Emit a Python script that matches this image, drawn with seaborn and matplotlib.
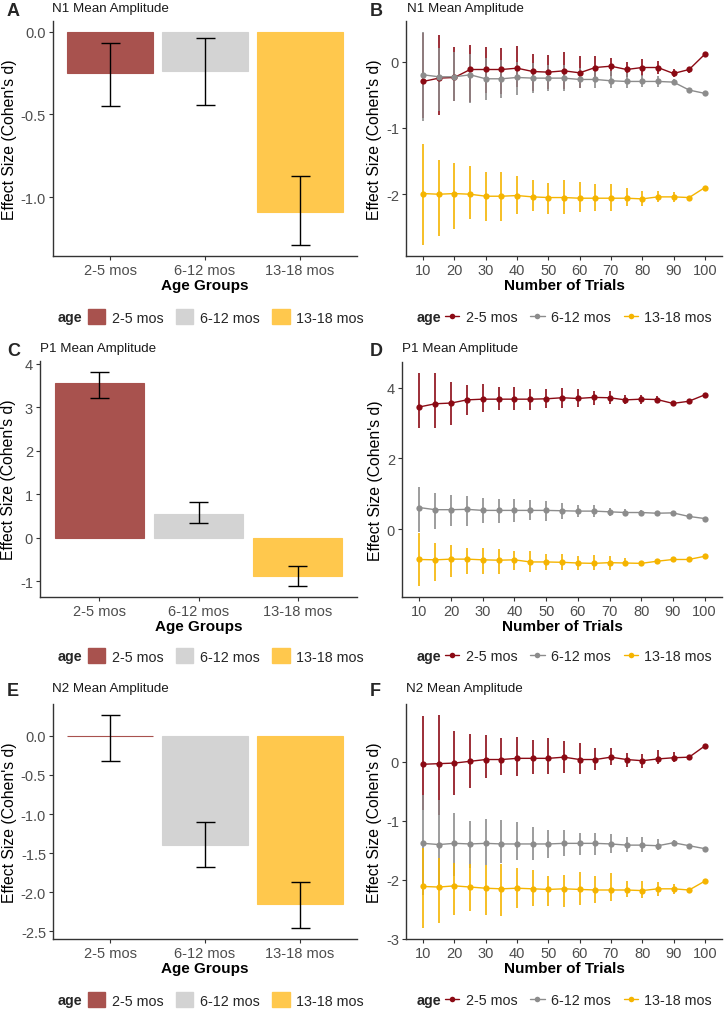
import matplotlib
matplotlib.use("Agg")
import matplotlib.pyplot as plt
import numpy as np
import pandas as pd
import seaborn as sns
from matplotlib.patches import Patch
from matplotlib.lines import Line2D

nan = np.nan

ages = ['2-5 mos', '6-12 mos', '13-18 mos']
bar_colors = ['#A8524E', '#D3D3D3', '#FFC84D']
line_colors = ['#8B0A14', '#8C8C8C', '#F5B400']

# bar panels (A, C, E)
n1_bar = [-0.25, -0.24, -1.09]
n1_bar_lo = [-0.45, -0.44, -1.29]
n1_bar_hi = [-0.07, -0.04, -0.87]
p1_bar = [3.55, 0.55, -0.88]
p1_bar_lo = [3.22, 0.33, -1.12]
p1_bar_hi = [3.82, 0.81, -0.66]
n2_bar = [-0.005, -1.40, -2.15]
n2_bar_lo = [-0.32, -1.68, -2.46]
n2_bar_hi = [0.27, -1.10, -1.87]

trials = [10, 15, 20, 25, 30, 35, 40, 45, 50, 55, 60, 65, 70, 75, 80, 85, 90, 95, 100]

# N1 by trials (B)
n1_25 = [-0.30, -0.25, -0.24, -0.12, -0.12, -0.12, -0.10, -0.15, -0.16, -0.14, -0.17, -0.09, -0.07, -0.12, -0.09, -0.09, -0.18, -0.12, 0.11]
n1_25_lo = [-0.85, -0.80, -0.59, -0.61, -0.47, -0.49, -0.39, -0.44, -0.42, -0.42, -0.40, -0.27, -0.22, -0.24, -0.22, -0.19, -0.23, -0.17, nan]
n1_25_hi = [0.43, 0.40, 0.22, 0.25, 0.22, 0.21, 0.23, 0.11, 0.10, 0.15, 0.09, 0.09, 0.06, -0.01, 0.04, 0.01, -0.11, -0.09, nan]
n1_612 = [-0.20, -0.23, -0.23, -0.20, -0.26, -0.26, -0.24, -0.25, -0.25, -0.25, -0.27, -0.27, -0.29, -0.30, -0.30, -0.30, -0.31, -0.43, -0.48]
n1_612_lo = [-0.89, -0.75, -0.60, -0.62, -0.58, -0.55, -0.50, -0.48, -0.45, -0.45, -0.40, -0.40, -0.40, -0.40, -0.38, -0.38, -0.36, -0.46, nan]
n1_612_hi = [0.45, 0.20, 0.15, 0.12, 0.05, 0.02, 0.00, -0.02, -0.05, -0.05, -0.10, -0.12, -0.15, -0.18, -0.20, -0.22, -0.26, -0.40, nan]
n1_1318 = [-1.99, -2.00, -1.99, -2.00, -2.03, -2.03, -2.02, -2.04, -2.05, -2.05, -2.06, -2.06, -2.06, -2.06, -2.07, -2.04, -2.04, -2.05, -1.90]
n1_1318_lo = [-2.77, -2.63, -2.52, -2.37, -2.40, -2.41, -2.30, -2.26, -2.30, -2.30, -2.27, -2.26, -2.25, -2.17, -2.17, -2.12, -2.11, -2.07, nan]
n1_1318_hi = [-1.24, -1.48, -1.53, -1.58, -1.67, -1.67, -1.72, -1.78, -1.83, -1.79, -1.82, -1.84, -1.84, -1.90, -1.95, -1.95, -1.97, -2.03, nan]

# P1 by trials (D)
p1_25 = [3.46, 3.55, 3.57, 3.66, 3.68, 3.68, 3.68, 3.68, 3.69, 3.72, 3.70, 3.73, 3.72, 3.66, 3.68, 3.67, 3.56, 3.62, 3.80]
p1_25_lo = [2.85, 2.87, 2.96, 3.22, 3.33, 3.36, 3.38, 3.38, 3.43, 3.42, 3.46, 3.52, 3.55, 3.55, 3.55, 3.57, 3.50, 3.57, nan]
p1_25_hi = [4.43, 4.41, 4.18, 4.08, 4.10, 4.02, 4.02, 3.96, 3.96, 4.01, 3.96, 3.92, 3.90, 3.80, 3.80, 3.77, 3.62, 3.67, nan]
p1_612 = [0.61, 0.55, 0.55, 0.56, 0.53, 0.53, 0.53, 0.53, 0.53, 0.52, 0.51, 0.51, 0.49, 0.47, 0.47, 0.45, 0.46, 0.36, 0.30]
p1_612_lo = [-0.07, 0.00, 0.08, 0.09, 0.16, 0.17, 0.19, 0.26, 0.23, 0.30, 0.33, 0.33, 0.36, 0.38, 0.38, 0.39, 0.42, 0.33, nan]
p1_612_hi = [1.20, 1.03, 0.96, 0.94, 0.89, 0.86, 0.85, 0.83, 0.80, 0.73, 0.68, 0.68, 0.61, 0.56, 0.55, 0.51, 0.50, 0.39, nan]
p1_1318 = [-0.86, -0.87, -0.85, -0.85, -0.87, -0.88, -0.87, -0.93, -0.93, -0.94, -0.96, -0.97, -0.95, -0.96, -0.97, -0.91, -0.86, -0.86, -0.77]
p1_1318_lo = [-1.62, -1.48, -1.36, -1.27, -1.27, -1.27, -1.15, -1.22, -1.17, -1.17, -1.15, -1.17, -1.15, -1.05, -1.03, -0.97, -0.90, -0.90, nan]
p1_1318_hi = [-0.11, -0.38, -0.45, -0.54, -0.54, -0.56, -0.61, -0.63, -0.70, -0.70, -0.75, -0.73, -0.75, -0.83, -0.89, -0.85, -0.82, -0.82, nan]

# N2 by trials (F)
n2_25 = [-0.04, -0.03, -0.02, 0.01, 0.04, 0.04, 0.06, 0.06, 0.06, 0.08, 0.04, 0.04, 0.08, 0.04, 0.02, 0.05, 0.07, 0.08, 0.27]
n2_25_lo = [-0.82, -0.90, -0.56, -0.45, -0.27, -0.23, -0.24, -0.20, -0.21, -0.19, -0.20, -0.13, -0.06, -0.08, -0.10, -0.04, 0.00, 0.03, nan]
n2_25_hi = [0.77, 0.80, 0.53, 0.47, 0.46, 0.41, 0.42, 0.37, 0.41, 0.35, 0.32, 0.24, 0.23, 0.15, 0.14, 0.20, 0.16, 0.12, nan]
n2_612 = [-1.38, -1.40, -1.38, -1.39, -1.38, -1.39, -1.39, -1.39, -1.39, -1.38, -1.38, -1.38, -1.39, -1.41, -1.41, -1.42, -1.37, -1.42, -1.47]
n2_612_lo = [-2.25, -2.17, -1.94, -1.80, -1.74, -1.72, -1.67, -1.66, -1.62, -1.59, -1.58, -1.58, -1.55, -1.52, -1.52, -1.50, -1.43, -1.46, nan]
n2_612_hi = [-0.56, -0.65, -0.87, -1.00, -0.97, -0.98, -1.01, -1.10, -1.16, -1.15, -1.20, -1.20, -1.22, -1.27, -1.28, -1.31, -1.33, -1.39, nan]
n2_1318 = [-2.11, -2.12, -2.10, -2.12, -2.14, -2.15, -2.14, -2.15, -2.16, -2.15, -2.16, -2.17, -2.17, -2.17, -2.18, -2.15, -2.15, -2.17, -2.02]
n2_1318_lo = [-2.81, -2.73, -2.59, -2.53, -2.59, -2.61, -2.48, -2.44, -2.44, -2.45, -2.42, -2.39, -2.35, -2.29, -2.31, -2.27, -2.24, -2.20, nan]
n2_1318_hi = [-1.46, -1.63, -1.71, -1.73, -1.75, -1.73, -1.80, -1.83, -1.93, -1.91, -1.87, -1.94, -1.89, -2.01, -2.01, -2.04, -2.06, -2.13, nan]

sns.set_theme(style="ticks")
plt.rcParams['font.family'] = ['Liberation Sans', 'DejaVu Sans']
plt.rcParams['axes.unicode_minus'] = False

W, H = 727, 1012
fig = plt.figure(figsize=(W / 100, H / 100), dpi=100)


def rect(l, t, r, b):
    return [l / W, 1 - b / H, (r - l) / W, (b - t) / H]


def style_axes(ax):
    sns.despine(ax=ax)
    for s in ['left', 'bottom']:
        ax.spines[s].set_color('#333333')
        ax.spines[s].set_linewidth(1.0)
    ax.tick_params(axis='both', labelsize=10.5, labelcolor='#4D4D4D', color='#333333',
                   length=3, width=0.8, pad=2)
    ax.set_ylabel("Effect Size (Cohen's d)", fontsize=11.3, color='black', labelpad=3)


def expand(lo, hi):
    d = (hi - lo) * 0.05
    return lo - d, hi + d


def bar_panel(pos, vals, lo, hi, yticks, fmt):
    ax = fig.add_axes(rect(*pos))
    df = pd.DataFrame({'age': ages, 'd': vals})
    sns.barplot(data=df, x='age', y='d', hue='age', order=ages, hue_order=ages,
                palette=bar_colors, width=0.9, saturation=1, legend=False, ax=ax)
    for p, c in zip(ax.patches, bar_colors):
        p.set_edgecolor(c)
        p.set_linewidth(0.8)
    x = np.arange(len(ages))
    ax.vlines(x, lo, hi, color='black', lw=1.0, zorder=3)
    ax.hlines(lo, x - 0.1, x + 0.1, color='black', lw=1.0, zorder=3)
    ax.hlines(hi, x - 0.1, x + 0.1, color='black', lw=1.0, zorder=3)
    ax.set_xlim(-0.6, 2.6)
    ax.set_ylim(*expand(min(min(lo), 0), max(max(hi), 0)))
    ax.set_yticks(yticks)
    ax.set_yticklabels([fmt.format(t) for t in yticks])
    style_axes(ax)
    ax.set_xlabel('Age Groups', fontsize=11, fontweight='bold', color='black', labelpad=1)
    return ax


def line_panel(pos, series, yticks):
    ax = fig.add_axes(rect(*pos))
    rows = []
    for age, (m, lo, hi) in zip(ages, series):
        for t, a, b, c in zip(trials, m, lo, hi):
            rows.append({'age': age, 'trials': t, 'd': a, 'lo': b, 'hi': c})
    df = pd.DataFrame(rows)
    for age, col in zip(ages, line_colors):
        sub = df[df.age == age]
        ax.vlines(sub.trials, sub.lo, sub.hi, color=col, lw=1.4, alpha=0.85, zorder=2)
    sns.lineplot(data=df, x='trials', y='d', hue='age', hue_order=ages, palette=line_colors,
                 marker='o', markersize=4.5, markeredgewidth=0, linewidth=1.0,
                 legend=False, ax=ax, zorder=3)
    ax.set_xlim(4.5, 105.5)
    ax.set_xticks(range(10, 101, 10))
    ax.set_ylim(*expand(np.nanmin(df.lo), np.nanmax(df.hi)))
    ax.set_yticks(yticks)
    ax.set_yticklabels([str(t) for t in yticks])
    style_axes(ax)
    ax.set_xlabel('Number of Trials', fontsize=11, fontweight='bold', color='black', labelpad=1)
    return ax


def bar_legend(x, y):
    fig.text(x / W, 1 - y / H, 'age', fontsize=10.3, fontweight='bold', va='center', ha='left')
    handles = [Patch(facecolor=c, edgecolor=c) for c in bar_colors]
    fig.legend(handles, ages, loc='center left', bbox_to_anchor=((x + 30) / W, 1 - y / H),
               ncol=3, frameon=False, fontsize=10.3, handlelength=1.2, handleheight=1.2,
               handletextpad=0.45, columnspacing=0.9, borderpad=0, borderaxespad=0)


def line_legend(x, y):
    fig.text(x / W, 1 - y / H, 'age', fontsize=10.3, fontweight='bold', va='center', ha='left')
    handles = [Line2D([0], [0], color=c, lw=1.0, marker='o', markersize=4, markeredgewidth=0)
               for c in line_colors]
    fig.legend(handles, ages, loc='center left', bbox_to_anchor=((x + 28) / W, 1 - y / H),
               ncol=3, frameon=False, fontsize=10.3, handlelength=1.0,
               handletextpad=0.45, columnspacing=0.9, borderpad=0, borderaxespad=0)


def headers(letter, title, lx, tx, y):
    fig.text(lx / W, 1 - y / H, letter, fontsize=13, fontweight='bold', va='center', ha='left')
    fig.text(tx / W, 1 - (y - 3) / H, title, fontsize=9.6, va='center', ha='left', color='#1A1A1A')


# row 1
bar_panel((53, 22, 357, 257), n1_bar, n1_bar_lo, n1_bar_hi, [0.0, -0.5, -1.0], '{:.1f}')
line_panel((406, 22, 722, 257),
           [(n1_25, n1_25_lo, n1_25_hi), (n1_612, n1_612_lo, n1_612_hi), (n1_1318, n1_1318_lo, n1_1318_hi)],
           [0, -1, -2])
headers('A', 'N1 Mean Amplitude', 7, 52, 12)
headers('B', 'N1 Mean Amplitude', 370, 407, 12)
bar_legend(58, 318)
line_legend(417, 318)

# row 2
bar_panel((40, 362, 357, 598), p1_bar, p1_bar_lo, p1_bar_hi, [-1, 0, 1, 2, 3, 4], '{:d}')
line_panel((402, 363, 722, 598),
           [(p1_25, p1_25_lo, p1_25_hi), (p1_612, p1_612_lo, p1_612_hi), (p1_1318, p1_1318_lo, p1_1318_hi)],
           [0, 2, 4])
headers('C', 'P1 Mean Amplitude', 7, 40, 352)
headers('D', 'P1 Mean Amplitude', 370, 402, 352)
bar_legend(58, 657)
line_legend(417, 657)

# row 3
bar_panel((53, 705, 357, 940), n2_bar, n2_bar_lo, n2_bar_hi, [0.0, -0.5, -1.0, -1.5, -2.0, -2.5], '{:.1f}')
line_panel((406, 705, 722, 940),
           [(n2_25, n2_25_lo, n2_25_hi), (n2_612, n2_612_lo, n2_612_hi), (n2_1318, n2_1318_lo, n2_1318_hi)],
           [0, -1, -2, -3])
headers('E', 'N2 Mean Amplitude', 7, 52, 692)
headers('F', 'N2 Mean Amplitude', 370, 406, 692)
bar_legend(58, 1001)
line_legend(417, 1001)

fig.savefig('out.png', dpi=100)
